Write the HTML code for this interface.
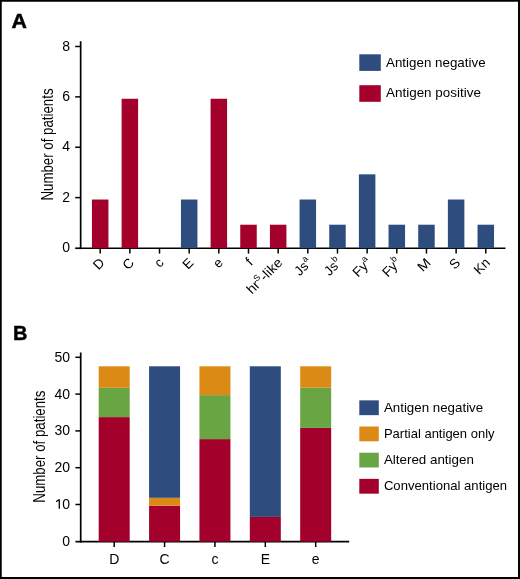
<!DOCTYPE html>
<html><head><meta charset="utf-8"><style>
html,body{margin:0;padding:0;background:#fff;}
svg{display:block;will-change:transform;font-family:"Liberation Sans",sans-serif;}
</style></head><body>
<svg width="520" height="579" viewBox="0 0 520 579" fill="#000">
<rect x="0" y="0" width="520" height="579" fill="#fff"/>
<rect x="0.00" y="0.00" width="520.00" height="1.75" fill="#000"/>
<rect x="0.00" y="0.00" width="1.75" height="579.00" fill="#000"/>
<rect x="518.00" y="0.00" width="2.00" height="579.00" fill="#000"/>
<rect x="0.00" y="577.00" width="520.00" height="2.00" fill="#000"/>
<text x="11.60" y="28.50" font-size="20.5" text-anchor="start" font-weight="bold" stroke="#000" stroke-width="0.5" transform="translate(11.6 0) scale(1.04 1) translate(-11.6 0)">A</text>
<text x="12.90" y="339.50" font-size="20" text-anchor="start" font-weight="bold" stroke="#000" stroke-width="0.4">B</text>
<line x1="80.65" y1="41.20" x2="80.65" y2="249.10" stroke="#000" stroke-width="1.7"/>
<line x1="79.80" y1="248.25" x2="505.50" y2="248.25" stroke="#000" stroke-width="1.7"/>
<line x1="75.20" y1="248.25" x2="80.65" y2="248.25" stroke="#000" stroke-width="1.7"/>
<text x="70.00" y="252.10" font-size="14" text-anchor="end" font-weight="normal" >0</text>
<line x1="75.20" y1="197.62" x2="80.65" y2="197.62" stroke="#000" stroke-width="1.5"/>
<text x="70.00" y="201.72" font-size="14" text-anchor="end" font-weight="normal" >2</text>
<line x1="75.20" y1="147.24" x2="80.65" y2="147.24" stroke="#000" stroke-width="1.5"/>
<text x="70.00" y="151.34" font-size="14" text-anchor="end" font-weight="normal" >4</text>
<line x1="75.20" y1="96.86" x2="80.65" y2="96.86" stroke="#000" stroke-width="1.5"/>
<text x="70.00" y="100.96" font-size="14" text-anchor="end" font-weight="normal" >6</text>
<line x1="75.20" y1="46.48" x2="80.65" y2="46.48" stroke="#000" stroke-width="1.5"/>
<text x="70.00" y="50.58" font-size="14" text-anchor="end" font-weight="normal" >8</text>
<rect x="91.95" y="199.52" width="16.50" height="48.73" fill="#A3002B"/>
<line x1="100.20" y1="248.25" x2="100.20" y2="253.60" stroke="#000" stroke-width="1.5"/>
<text x="105.30" y="263.50" font-size="13.5" text-anchor="end" font-weight="normal" transform="rotate(-45 105.30 263.50)">D</text>
<rect x="121.61" y="98.76" width="16.50" height="149.49" fill="#A3002B"/>
<line x1="129.86" y1="248.25" x2="129.86" y2="253.60" stroke="#000" stroke-width="1.5"/>
<text x="134.96" y="263.50" font-size="13.5" text-anchor="end" font-weight="normal" transform="rotate(-45 134.96 263.50)">C</text>
<line x1="159.52" y1="248.25" x2="159.52" y2="253.60" stroke="#000" stroke-width="1.5"/>
<text x="164.62" y="263.50" font-size="13.5" text-anchor="end" font-weight="normal" transform="rotate(-45 164.62 263.50)">c</text>
<rect x="180.93" y="199.52" width="16.50" height="48.73" fill="#2E4C7E"/>
<line x1="189.18" y1="248.25" x2="189.18" y2="253.60" stroke="#000" stroke-width="1.5"/>
<text x="194.28" y="263.50" font-size="13.5" text-anchor="end" font-weight="normal" transform="rotate(-45 194.28 263.50)">E</text>
<rect x="210.59" y="98.76" width="16.50" height="149.49" fill="#A3002B"/>
<line x1="218.84" y1="248.25" x2="218.84" y2="253.60" stroke="#000" stroke-width="1.5"/>
<text x="223.94" y="263.50" font-size="13.5" text-anchor="end" font-weight="normal" transform="rotate(-45 223.94 263.50)">e</text>
<rect x="240.25" y="224.71" width="16.50" height="23.54" fill="#A3002B"/>
<line x1="248.50" y1="248.25" x2="248.50" y2="253.60" stroke="#000" stroke-width="1.5"/>
<text x="253.60" y="263.50" font-size="13.5" text-anchor="end" font-weight="normal" transform="rotate(-45 253.60 263.50)">f</text>
<rect x="269.91" y="224.71" width="16.50" height="23.54" fill="#A3002B"/>
<line x1="278.16" y1="248.25" x2="278.16" y2="253.60" stroke="#000" stroke-width="1.5"/>
<text x="283.26" y="263.50" font-size="13.5" text-anchor="end" font-weight="normal" transform="rotate(-45 283.26 263.50)" textLength="44.2" lengthAdjust="spacingAndGlyphs">hr<tspan font-size="8.6" dy="-5.6">S</tspan><tspan dy="5.6">-like</tspan></text>
<rect x="299.57" y="199.52" width="16.50" height="48.73" fill="#2E4C7E"/>
<line x1="307.82" y1="248.25" x2="307.82" y2="253.60" stroke="#000" stroke-width="1.5"/>
<text x="312.92" y="263.50" font-size="13.5" text-anchor="end" font-weight="normal" transform="rotate(-45 312.92 263.50)">Js<tspan font-size="9" dy="-6">a</tspan></text>
<rect x="329.23" y="224.71" width="16.50" height="23.54" fill="#2E4C7E"/>
<line x1="337.48" y1="248.25" x2="337.48" y2="253.60" stroke="#000" stroke-width="1.5"/>
<text x="342.58" y="263.50" font-size="13.5" text-anchor="end" font-weight="normal" transform="rotate(-45 342.58 263.50)">Js<tspan font-size="9" dy="-6">b</tspan></text>
<rect x="358.89" y="174.33" width="16.50" height="73.92" fill="#2E4C7E"/>
<line x1="367.14" y1="248.25" x2="367.14" y2="253.60" stroke="#000" stroke-width="1.5"/>
<text x="372.24" y="263.50" font-size="13.5" text-anchor="end" font-weight="normal" transform="rotate(-45 372.24 263.50)">Fy<tspan font-size="9" dy="-6">a</tspan></text>
<rect x="388.55" y="224.71" width="16.50" height="23.54" fill="#2E4C7E"/>
<line x1="396.80" y1="248.25" x2="396.80" y2="253.60" stroke="#000" stroke-width="1.5"/>
<text x="401.90" y="263.50" font-size="13.5" text-anchor="end" font-weight="normal" transform="rotate(-45 401.90 263.50)">Fy<tspan font-size="9" dy="-6">b</tspan></text>
<rect x="418.21" y="224.71" width="16.50" height="23.54" fill="#2E4C7E"/>
<line x1="426.46" y1="248.25" x2="426.46" y2="253.60" stroke="#000" stroke-width="1.5"/>
<text x="431.56" y="263.50" font-size="13.5" text-anchor="end" font-weight="normal" transform="rotate(-45 431.56 263.50)" textLength="12.6" lengthAdjust="spacingAndGlyphs">M</text>
<rect x="447.87" y="199.52" width="16.50" height="48.73" fill="#2E4C7E"/>
<line x1="456.12" y1="248.25" x2="456.12" y2="253.60" stroke="#000" stroke-width="1.5"/>
<text x="461.22" y="263.50" font-size="13.5" text-anchor="end" font-weight="normal" transform="rotate(-45 461.22 263.50)">S</text>
<rect x="477.53" y="224.71" width="16.50" height="23.54" fill="#2E4C7E"/>
<line x1="485.78" y1="248.25" x2="485.78" y2="253.60" stroke="#000" stroke-width="1.5"/>
<text x="490.88" y="263.50" font-size="13.5" text-anchor="end" font-weight="normal" transform="rotate(-45 490.88 263.50)">Kn</text>
<text x="0" y="0" font-size="16" text-anchor="middle" transform="translate(53.0 144.5) rotate(-90) scale(0.83 1)">Number of patients</text>
<rect x="359.30" y="54.30" width="21.50" height="16.60" fill="#2E4C7E"/>
<rect x="359.30" y="85.20" width="21.50" height="16.60" fill="#A3002B"/>
<text x="386.00" y="66.70" font-size="13.6" text-anchor="start" font-weight="normal" textLength="99.6" lengthAdjust="spacingAndGlyphs">Antigen negative</text>
<text x="386.00" y="97.40" font-size="13.6" text-anchor="start" font-weight="normal" textLength="94.9" lengthAdjust="spacingAndGlyphs">Antigen positive</text>
<line x1="80.70" y1="352.50" x2="80.70" y2="542.50" stroke="#000" stroke-width="1.7"/>
<line x1="79.85" y1="541.65" x2="349.20" y2="541.65" stroke="#000" stroke-width="1.7"/>
<line x1="75.40" y1="541.65" x2="80.70" y2="541.65" stroke="#000" stroke-width="1.7"/>
<text x="70.00" y="545.80" font-size="14" text-anchor="end" font-weight="normal" >0</text>
<line x1="75.40" y1="504.50" x2="80.70" y2="504.50" stroke="#000" stroke-width="1.5"/>
<text x="70.00" y="508.70" font-size="14" text-anchor="end" font-weight="normal" >0</text>
<path d="M56.1 501.80 L59.3 499.50 L59.3 508.70" fill="none" stroke="#000" stroke-width="1.3" stroke-linejoin="bevel"/>
<line x1="75.40" y1="467.70" x2="80.70" y2="467.70" stroke="#000" stroke-width="1.5"/>
<text x="70.00" y="472.20" font-size="14" text-anchor="end" font-weight="normal" >20</text>
<line x1="75.40" y1="430.90" x2="80.70" y2="430.90" stroke="#000" stroke-width="1.5"/>
<text x="70.00" y="435.40" font-size="14" text-anchor="end" font-weight="normal" >30</text>
<line x1="75.40" y1="394.10" x2="80.70" y2="394.10" stroke="#000" stroke-width="1.5"/>
<text x="70.00" y="398.60" font-size="14" text-anchor="end" font-weight="normal" >40</text>
<line x1="75.40" y1="357.30" x2="80.70" y2="357.30" stroke="#000" stroke-width="1.5"/>
<text x="70.00" y="361.80" font-size="14" text-anchor="end" font-weight="normal" >50</text>
<rect x="98.70" y="417.10" width="31.00" height="124.55" fill="#A3002B"/>
<rect x="98.70" y="387.80" width="31.00" height="29.30" fill="#6AA544"/>
<rect x="98.70" y="366.30" width="31.00" height="21.50" fill="#DC8A16"/>
<line x1="114.20" y1="541.65" x2="114.20" y2="547.00" stroke="#000" stroke-width="1.5"/>
<text x="114.20" y="564.00" font-size="14" text-anchor="middle" font-weight="normal" >D</text>
<rect x="149.07" y="505.70" width="31.00" height="35.95" fill="#A3002B"/>
<rect x="149.07" y="497.80" width="31.00" height="7.90" fill="#DC8A16"/>
<rect x="149.07" y="366.30" width="31.00" height="131.50" fill="#2E4C7E"/>
<line x1="164.57" y1="541.65" x2="164.57" y2="547.00" stroke="#000" stroke-width="1.5"/>
<text x="164.57" y="564.00" font-size="14" text-anchor="middle" font-weight="normal" >C</text>
<rect x="199.44" y="439.10" width="31.00" height="102.55" fill="#A3002B"/>
<rect x="199.44" y="395.10" width="31.00" height="44.00" fill="#6AA544"/>
<rect x="199.44" y="366.30" width="31.00" height="28.80" fill="#DC8A16"/>
<line x1="214.94" y1="541.65" x2="214.94" y2="547.00" stroke="#000" stroke-width="1.5"/>
<text x="214.94" y="564.00" font-size="14" text-anchor="middle" font-weight="normal" >c</text>
<rect x="249.81" y="516.90" width="31.00" height="24.75" fill="#A3002B"/>
<rect x="249.81" y="366.30" width="31.00" height="150.60" fill="#2E4C7E"/>
<line x1="265.31" y1="541.65" x2="265.31" y2="547.00" stroke="#000" stroke-width="1.5"/>
<text x="265.31" y="564.00" font-size="14" text-anchor="middle" font-weight="normal" >E</text>
<rect x="300.18" y="427.90" width="31.00" height="113.75" fill="#A3002B"/>
<rect x="300.18" y="387.70" width="31.00" height="40.20" fill="#6AA544"/>
<rect x="300.18" y="366.30" width="31.00" height="21.40" fill="#DC8A16"/>
<line x1="315.68" y1="541.65" x2="315.68" y2="547.00" stroke="#000" stroke-width="1.5"/>
<text x="315.68" y="564.00" font-size="14" text-anchor="middle" font-weight="normal" >e</text>
<text x="0" y="0" font-size="16" text-anchor="middle" transform="translate(45.2 446.6) rotate(-90) scale(0.83 1)">Number of patients</text>
<rect x="359.30" y="400.35" width="19.50" height="14.80" fill="#2E4C7E"/>
<text x="383.90" y="411.85" font-size="13.6" text-anchor="start" font-weight="normal" textLength="99.3" lengthAdjust="spacingAndGlyphs">Antigen negative</text>
<rect x="359.30" y="426.52" width="19.50" height="14.80" fill="#DC8A16"/>
<text x="383.90" y="438.02" font-size="13.6" text-anchor="start" font-weight="normal" textLength="110.7" lengthAdjust="spacingAndGlyphs">Partial antigen only</text>
<rect x="359.30" y="452.69" width="19.50" height="14.80" fill="#6AA544"/>
<text x="383.90" y="464.19" font-size="13.6" text-anchor="start" font-weight="normal" textLength="90.0" lengthAdjust="spacingAndGlyphs">Altered antigen</text>
<rect x="359.30" y="478.86" width="19.50" height="14.80" fill="#A3002B"/>
<text x="383.90" y="490.36" font-size="13.6" text-anchor="start" font-weight="normal" textLength="123.2" lengthAdjust="spacingAndGlyphs">Conventional antigen</text>
</svg></body></html>
